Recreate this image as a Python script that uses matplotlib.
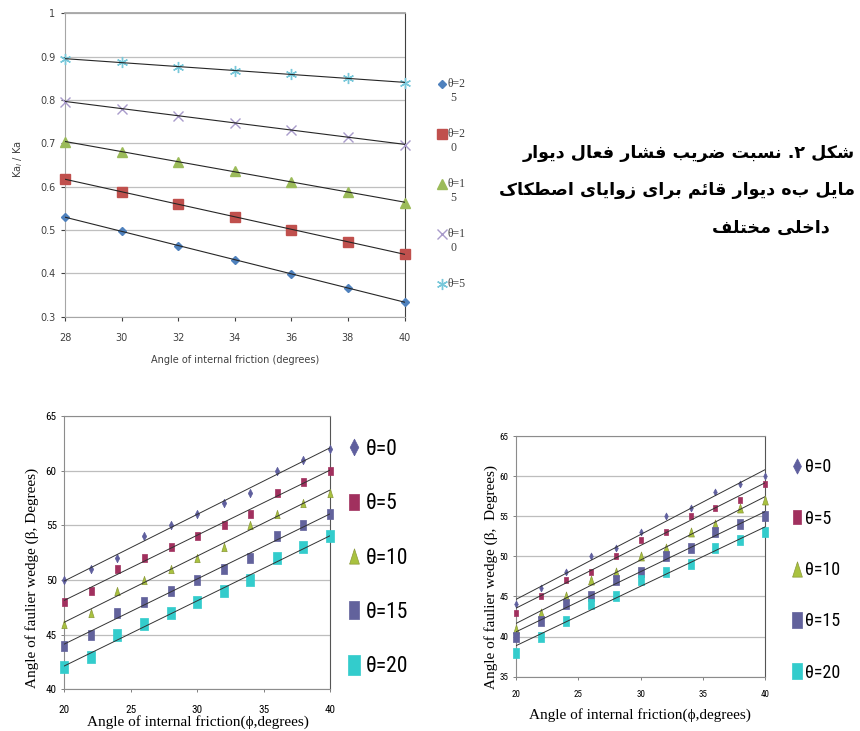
import matplotlib
matplotlib.use("Agg")
import matplotlib.pyplot as plt
import numpy as np
from matplotlib import font_manager as fm
from matplotlib import ft2font
from matplotlib.lines import Line2D

# ---------------- data: top chart (Ka_l / Ka) ----------------
phi_top = [28, 30, 32, 34, 36, 38, 40]
ka_th25 = [0.530, 0.497, 0.464, 0.431, 0.399, 0.366, 0.334]
ka_th20 = [0.617, 0.588, 0.560, 0.531, 0.501, 0.473, 0.444]
ka_th15 = [0.703, 0.681, 0.658, 0.636, 0.611, 0.588, 0.563]
ka_th10 = [0.796, 0.780, 0.764, 0.748, 0.731, 0.714, 0.697]
ka_th5 = [0.895, 0.887, 0.876, 0.868, 0.860, 0.850, 0.840]
top_labels = ["θ=25", "θ=20", "θ=15", "θ=10", "θ=5"]

# ---------------- data: wedge angle charts ----------------
phi_bot = [20, 22, 24, 26, 28, 30, 32, 34, 36, 38, 40]
bot_labels = ["θ=0", "θ=5", "θ=10", "θ=15", "θ=20"]

left_th0 = [50, 51, 52, 54, 55, 56, 57, 58, 60, 61, 62]
left_th5 = [48, 49, 51, 52, 53, 54, 55, 56, 58, 59, 60]
left_th10 = [46, 47, 49, 50, 51, 52, 53, 55, 56, 57, 58]
left_th15 = [44, 45, 47, 48, 49, 50, 51, 52, 54, 55, 56]
left_th20 = [42, 43, 45, 46, 47, 48, 49, 50, 52, 53, 54]

right_th0 = [44, 46, 48, 50, 51, 53, 55, 56, 58, 59, 60]
right_th5 = [43, 45, 47, 48, 50, 52, 53, 55, 56, 57, 59]
right_th10 = [41, 43, 45, 47, 48, 50, 51, 53, 54, 56, 57]
right_th15 = [40, 42, 44, 45, 47, 48, 50, 51, 53, 54, 55]
right_th20 = [38, 40, 42, 44, 45, 47, 48, 49, 51, 52, 53]

caption_lines = [
    "شکل ۲. نسبت ضریب فشار فعال دیوار",
    "مایل به دیوار قائم برای زوایای اصطکاک",
    "داخلی مختلف",
]

# ---------------- fonts ----------------
serif = "Liberation Serif"


def condensed_font():
    # the original uses a narrow sans face for ticks / legend
    prefs = ["Liberation Sans Narrow", "Roboto Condensed", "Open Sans Condensed",
             "Noto Sans Condensed", "DejaVu Sans", "Noto Sans", "Open Sans", "Roboto"]
    found = {}
    for f in fm.fontManager.ttflist:
        st = str(f.stretch).lower()
        is_cond = ("condensed" in st and "semi" not in st and "extra" not in st and "ultra" not in st) \
            or "Narrow" in f.name or "Condensed" in f.name
        if is_cond and f.style == "normal" and str(f.weight) in ("400", "normal", "regular", "book"):
            found.setdefault(f.name, f.fname)
    for p in prefs:
        if p in found:
            return found[p]
    if found:
        return list(found.values())[0]
    return fm.findfont(fm.FontProperties(family="Liberation Sans"))


narrow_path = condensed_font()


def narrow_fp(size):
    return fm.FontProperties(fname=narrow_path, size=size)


# simple persian shaping (presentation forms + right-to-left order)
bold_path = fm.findfont(fm.FontProperties(family="DejaVu Sans", weight="bold"))
cmap = ft2font.FT2Font(bold_path).get_charmap()

forms = {
    "ا": (0xFE8D, 0xFE8E, None, None),
    "ب": (0xFE8F, 0xFE90, 0xFE91, 0xFE92),
    "ت": (0xFE95, 0xFE96, 0xFE97, 0xFE98),
    "خ": (0xFEA5, 0xFEA6, 0xFEA7, 0xFEA8),
    "د": (0xFEA9, 0xFEAA, None, None),
    "ر": (0xFEAD, 0xFEAE, None, None),
    "ز": (0xFEAF, 0xFEB0, None, None),
    "س": (0xFEB1, 0xFEB2, 0xFEB3, 0xFEB4),
    "ش": (0xFEB5, 0xFEB6, 0xFEB7, 0xFEB8),
    "ص": (0xFEB9, 0xFEBA, 0xFEBB, 0xFEBC),
    "ض": (0xFEBD, 0xFEBE, 0xFEBF, 0xFEC0),
    "ط": (0xFEC1, 0xFEC2, 0xFEC3, 0xFEC4),
    "ع": (0xFEC9, 0xFECA, 0xFECB, 0xFECC),
    "ف": (0xFED1, 0xFED2, 0xFED3, 0xFED4),
    "ق": (0xFED5, 0xFED6, 0xFED7, 0xFED8),
    "ل": (0xFEDD, 0xFEDE, 0xFEDF, 0xFEE0),
    "م": (0xFEE1, 0xFEE2, 0xFEE3, 0xFEE4),
    "ن": (0xFEE5, 0xFEE6, 0xFEE7, 0xFEE8),
    "و": (0xFEED, 0xFEEE, None, None),
    "ئ": (0xFE89, 0xFE8A, 0xFE8B, 0xFE8C),
}
if 0xFB8E in cmap:
    forms["ک"] = (0xFB8E, 0xFB8F, 0xFB90, 0xFB91)
else:
    forms["ک"] = (0xFED9, 0xFEDA, 0xFEDB, 0xFEDC)
if 0xFBFC in cmap:
    forms["ی"] = (0xFBFC, 0xFBFD, 0xFBFE, 0xFBFF)
else:
    forms["ی"] = (0xFEEF, 0xFEF0, 0xFEF3, 0xFEF4)
right_only = set("ادرزو")


def shape_fa(text):
    if 0x06F2 not in cmap:
        text = text.replace("۲", "٢")
    out = []
    for i, c in enumerate(text):
        if c not in forms:
            out.append(c)
            continue
        prev = text[i - 1] if i > 0 else ""
        nxt = text[i + 1] if i + 1 < len(text) else ""
        jp = prev in forms and prev not in right_only
        jn = nxt in forms and c not in right_only
        iso, fin, ini, med = forms[c]
        if jp and jn:
            g = med
        elif jp:
            g = fin
        elif jn:
            g = ini
        else:
            g = iso
        out.append(chr(g))
    return "".join(reversed(out))


W, H = 860, 731
fig = plt.figure(figsize=(8.6, 7.31), dpi=100)


def px_axes(x0, y0, x1, y1):
    # pixel box (top-left origin) -> figure axes
    return fig.add_axes([x0 / W, 1 - y1 / H, (x1 - x0) / W, (y1 - y0) / H])


# ================= top chart =================
ax = px_axes(65, 13.3, 404.5, 316.7)
top_series = [ka_th25, ka_th20, ka_th15, ka_th10, ka_th5]
top_style = [
    dict(marker="D", ms=4.5, mfc="#4F81BD", mec="#4F81BD"),
    dict(marker="s", ms=7, mfc="#C0504D", mec="#C0504D"),
    dict(marker="^", ms=7, mfc="#9BBB59", mec="#9BBB59"),
    dict(marker="x", ms=6.5, mfc="none", mec="#A99BCB", mew=1.0),
    dict(marker=(6, 2, 0), ms=8, mfc="none", mec="#78C8DA", mew=1.0),
]
x_arr = np.array(phi_top)
for vals, st in zip(top_series, top_style):
    ax.plot(phi_top, vals, ls="none", zorder=3, clip_on=False, **st)
    k, b = np.polyfit(x_arr, vals, 1)
    ax.plot(x_arr, k * x_arr + b, color="#262626", lw=0.8, zorder=4)

ax.set_xlim(28, 40)
ax.set_ylim(0.3, 1.0)
ax.set_xticks(phi_top)
ax.set_yticks(np.round(np.arange(0.3, 1.01, 0.1), 1))
ax.set_yticklabels(["0.3", "0.4", "0.5", "0.6", "0.7", "0.8", "0.9", "1"])
ax.yaxis.grid(True, color="#BFBFBF", lw=0.9)
ax.set_axisbelow(True)
for s in ["left", "bottom", "top"]:
    ax.spines[s].set_color("#A6A6A6")
ax.spines["top"].set_linewidth(1.3)
ax.spines["right"].set_color("#404040")
ax.tick_params(labelsize=7, colors="#404040", length=3, width=0.8, pad=4)
ax.tick_params(axis="x", pad=9)
ax.set_xlabel("Angle of internal friction (degrees)", fontsize=7, color="#404040")
ax.xaxis.set_label_coords(0.5, -0.143)
ax.xaxis.label.set_va("center")
ax.set_ylabel("Ka$_l$ / Ka", fontsize=7, color="#404040")
ax.yaxis.set_label_coords(-0.138, 0.52)
ax.yaxis.label.set_va("center")

# legend (labels wrap onto two lines in the original)
for i, (lab, st) in enumerate(zip(top_labels, top_style)):
    yy = 1 - (84 + 50 * i) / H
    fig.add_artist(Line2D([441.5 / W], [yy], ls="none", transform=fig.transFigure, **st))
    fig.text(447 / W, yy, lab[:3], fontsize=8.5, family=serif, va="center", color="#404040")
    if len(lab) > 3:
        fig.text(450.5 / W, yy - 14 / H, lab[3:], fontsize=8.5, family=serif,
                 va="center", color="#404040")

# persian caption
cap_pos = [(855, 158), (855, 195), (830, 233)]
for line, (cx, cy) in zip(caption_lines, cap_pos):
    fig.text(cx / W, 1 - cy / H, shape_fa(line), fontsize=12.6, fontweight="bold",
             family="DejaVu Sans", ha="right", va="baseline", color="black")

# ================= wedge angle charts =================
tall_dia = [(0, -0.5), (0.26, 0), (0, 0.5), (-0.26, 0), (0, -0.5)]
tall_rect = [(-0.3, -0.5), (0.3, -0.5), (0.3, 0.5), (-0.3, 0.5), (-0.3, -0.5)]
tall_tri = [(-0.32, -0.5), (0.32, -0.5), (0.0, 0.5), (-0.32, -0.5)]
markers = [tall_dia, tall_rect, tall_tri, tall_rect, tall_rect]
colors = ["#5F5F9E", "#A1305E", "#A9C23F", "#62629C", "#33CCCC"]
edges = ["#5F5F9E", "#A1305E", "#8C9A3A", "#62629C", "#33CCCC"]


def wedge_chart(box, series, ylim, sizes, leg_sizes, tick_fs, leg_fs, leg_anchor,
                leg_space, lab_fs, ylab, ylab_xy, xlab_xy, xpad, textpad):
    a = px_axes(*box)
    xs = np.array(phi_bot)
    handles = []
    for vals, m, c, e, s, ls in zip(series, markers, colors, edges, sizes, leg_sizes):
        a.plot(phi_bot, vals, ls="none", marker=m, ms=s, mfc=c, mec=e, mew=0.5,
               zorder=3, clip_on=False)
        k, b = np.polyfit(xs, vals, 1)
        a.plot(xs, k * xs + b, color="#333333", lw=0.7, zorder=4)
        handles.append(Line2D([], [], ls="none", marker=m, ms=ls, mfc=c, mec=e, mew=0.5))
    a.set_xlim(20, 40)
    a.set_ylim(*ylim)
    a.set_xticks([20, 25, 30, 35, 40])
    a.set_yticks(np.arange(ylim[0], ylim[1] + 1, 5))
    a.yaxis.grid(True, color="#BDBDBD", lw=0.9)
    a.set_axisbelow(True)
    for s in ["left", "bottom", "top"]:
        a.spines[s].set_color("#8C8C8C")
    a.spines["right"].set_color("#555555")
    a.tick_params(length=2.5, width=0.7, color="#808080", pad=3)
    a.tick_params(axis="x", pad=xpad)
    for t in a.get_xticklabels() + a.get_yticklabels():
        t.set_fontproperties(narrow_fp(tick_fs))
    a.set_ylabel(ylab, family=serif, fontsize=lab_fs)
    a.yaxis.set_label_coords(*ylab_xy)
    a.yaxis.label.set_va("center")
    a.set_xlabel("Angle of internal friction(ϕ,degrees)", family=serif, fontsize=lab_fs)
    a.xaxis.set_label_coords(*xlab_xy)
    a.xaxis.label.set_va("center")
    a.legend(handles, bot_labels, loc="center left", frameon=False,
             bbox_to_anchor=(leg_anchor[0] / W, 1 - leg_anchor[1] / H),
             bbox_transform=fig.transFigure, prop=narrow_fp(leg_fs),
             handlelength=0.7, handletextpad=textpad, labelspacing=leg_space,
             borderpad=0, borderaxespad=0)
    return a


wedge_chart((64.3, 416, 330, 689.3),
            [left_th0, left_th5, left_th10, left_th15, left_th20], (40, 65),
            sizes=[6, 6, 6, 7.2, 8.6], leg_sizes=[12, 11, 11, 13, 15],
            tick_fs=8, leg_fs=15.5, leg_anchor=(346, 558), leg_space=1.55,
            lab_fs=11, ylab="Angle of faulier wedge (β, Degrees)",
            ylab_xy=(-0.122, 0.407), xlab_xy=(0.503, -0.121), xpad=9, textpad=0.2)

wedge_chart((516, 436, 765.3, 676.7),
            [right_th0, right_th5, right_th10, right_th15, right_th20], (35, 65),
            sizes=[5, 5, 6.5, 7.2, 7.2], leg_sizes=[11, 10, 11, 12, 12],
            tick_fs=6.5, leg_fs=13, leg_anchor=(791, 570), leg_space=1.85,
            lab_fs=11, ylab="Angle of faulier wedge (β,  Degrees)",
            ylab_xy=(-0.102, 0.414), xlab_xy=(0.497, -0.159), xpad=7, textpad=0.1)

fig.savefig("out.png", dpi=100)
